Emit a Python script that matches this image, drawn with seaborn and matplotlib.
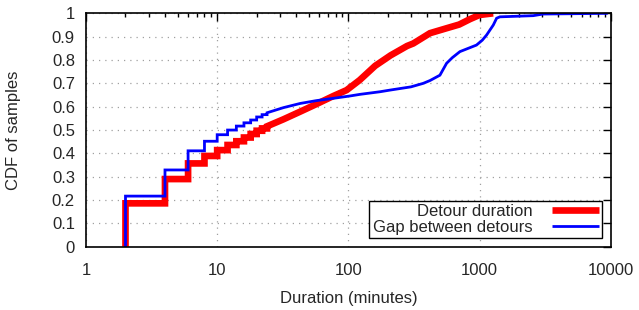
import matplotlib
matplotlib.use("Agg")
import matplotlib.pyplot as plt
from matplotlib.ticker import LogLocator, FuncFormatter, NullFormatter
import numpy as np
import pandas as pd
import seaborn as sns

# CDF of detour duration (minutes) - stepped part, then smooth part
detour_step_x = [2, 4, 6, 8, 10, 12, 14, 16, 18, 20, 22, 24]
detour_step_y = [0.186, 0.29, 0.357, 0.389, 0.414, 0.436, 0.452, 0.468, 0.483, 0.497, 0.507, 0.516]
detour_smooth_x = [32, 43, 57, 77, 97, 122, 160, 210, 280, 313, 419, 560, 700, 845, 1000, 1270]
detour_smooth_y = [0.546, 0.579, 0.611, 0.646, 0.671, 0.714, 0.775, 0.82, 0.86, 0.871, 0.915, 0.936, 0.952, 0.975, 0.993, 1.0]

# CDF of gap between detours (minutes)
gap_step_x = [2, 4, 6, 8, 10, 12, 14, 16, 18, 20, 22, 24]
gap_step_y = [0.217, 0.329, 0.411, 0.452, 0.48, 0.5, 0.517, 0.531, 0.543, 0.556, 0.566, 0.574]
gap_smooth_x = [32, 43, 57, 77, 103, 123, 174, 207, 300, 372, 419, 499, 561, 620, 709, 948, 1050, 1132,
                1274, 1350, 1430, 2566, 3055, 9500]
gap_smooth_y = [0.596, 0.614, 0.626, 0.636, 0.646, 0.653, 0.664, 0.671, 0.685, 0.70, 0.712, 0.735, 0.786,
                0.81, 0.836, 0.864, 0.885, 0.907, 0.95, 0.979, 0.985, 0.99, 0.997, 1.0]


def cdf_frame(step_x, step_y, smooth_x, smooth_y):
    xs = [step_x[0]]
    ys = [0.0]
    for i, (x, y) in enumerate(zip(step_x, step_y)):
        if i > 0:
            xs.append(x)
            ys.append(step_y[i - 1])
        xs.append(x)
        ys.append(y)
    xs += smooth_x
    ys += smooth_y
    return pd.DataFrame({"Duration": xs, "CDF": ys})


sns.set_style("white")
plt.rcParams['font.family'] = ['Liberation Sans', 'DejaVu Sans']

fig, ax = plt.subplots(figsize=(6.39, 3.10), dpi=100)
fig.subplots_adjust(left=0.1346, right=0.9557, bottom=0.204, top=0.957)

detour = cdf_frame(detour_step_x, detour_step_y, detour_smooth_x, detour_smooth_y)
gap = cdf_frame(gap_step_x, gap_step_y, gap_smooth_x, gap_smooth_y)

sns.lineplot(data=detour, x="Duration", y="CDF", estimator=None, sort=False, color="#ff0000",
             linewidth=4.8, solid_joinstyle="miter", solid_capstyle="butt", label="Detour duration", ax=ax)
sns.lineplot(data=gap, x="Duration", y="CDF", estimator=None, sort=False, color="#0000ff",
             linewidth=2.0, solid_joinstyle="miter", solid_capstyle="butt", label="Gap between detours", ax=ax)

ax.set_xscale("log")
ax.set_xlim(1, 10000)
ax.set_ylim(0, 1)
ax.xaxis.set_major_locator(LogLocator(base=10))
ax.xaxis.set_minor_locator(LogLocator(base=10, subs=np.arange(2, 10)))
ax.xaxis.set_major_formatter(FuncFormatter(lambda v, p: f"{v:g}"))
ax.xaxis.set_minor_formatter(NullFormatter())
ax.set_yticks(np.arange(0, 1.01, 0.1))
ax.yaxis.set_major_formatter(FuncFormatter(lambda v, p: f"{v:g}"))

ax.grid(True, which="major", linestyle=(0, (1, 4)), color="#a0a0a0", linewidth=0.9)
ax.tick_params(which="both", direction="in", top=True, right=True, labelsize=12, color="black")
ax.tick_params(which="major", length=6, width=1)
ax.tick_params(axis="x", which="major", pad=12)
ax.tick_params(axis="y", which="major", pad=8)
ax.tick_params(which="minor", length=3, width=1)
for s in ax.spines.values():
    s.set_color("black")
    s.set_linewidth(1.2)

ax.set_xlabel("Duration (minutes)", fontsize=12, labelpad=9)
ax.set_ylabel("CDF of samples", fontsize=12, labelpad=22)

leg = ax.legend(loc="lower right", markerfirst=False, fontsize=12, frameon=True, fancybox=False,
                borderpad=0.2, labelspacing=0.05, handlelength=2.8, handletextpad=1.2,
                borderaxespad=0.5)
leg.get_frame().set_edgecolor("black")
leg.get_frame().set_linewidth(1.0)
leg.get_frame().set_alpha(1)

fig.savefig("out.png", dpi=100)
